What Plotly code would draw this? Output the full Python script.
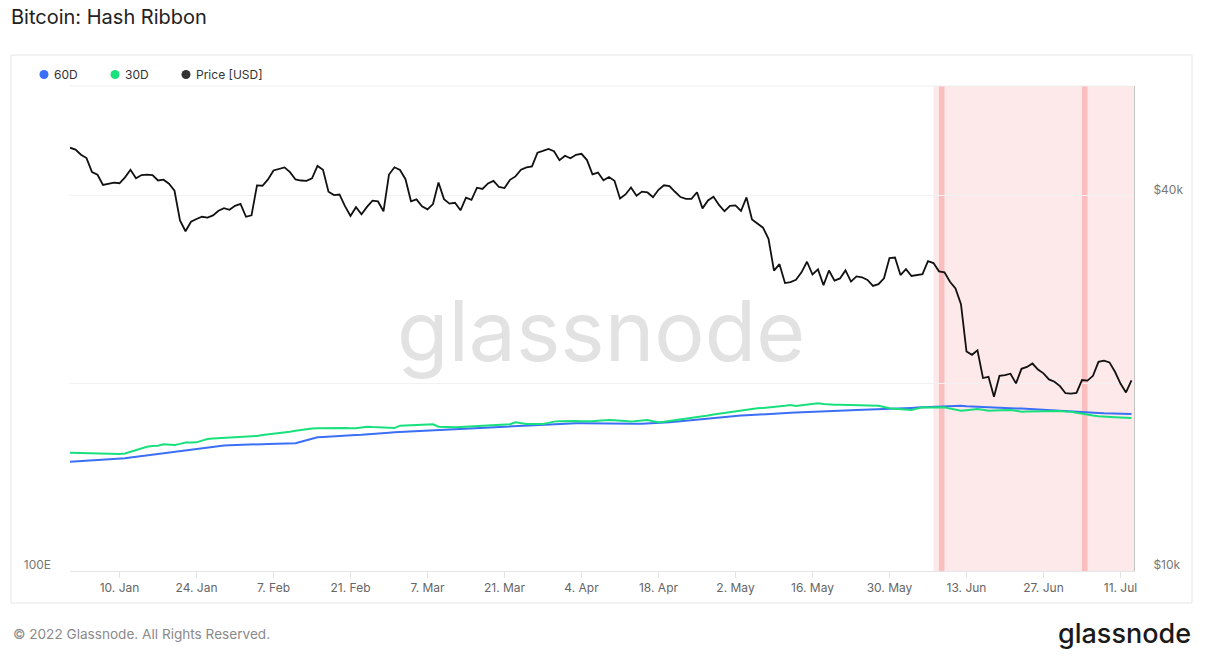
import pandas as pd
import plotly.graph_objects as go

# daily values, 1 Jan 2022 .. 13 Jul 2022
dates = pd.date_range("2022-01-01", "2022-07-13", freq="D")

price_usd = [
    # Jan
    47686, 47345, 46458, 45897, 43569, 43160, 41558, 41734, 41911, 41821, 42735, 43949, 42591, 43099, 43177, 43113,
    42250, 42375, 41744, 40680, 36457, 35030, 36276, 36654, 36954, 36852, 37138, 37784, 38138, 37917, 38483,
    # Feb
    38743, 36952, 37154, 41500, 41441, 42412, 43840, 44118, 44338, 43565, 42407, 42244, 42197, 42586, 44575, 43961,
    40538, 40030, 40122, 38431, 37075, 38286, 37296, 38332, 39214, 39105, 37710, 43194,
    # Mar
    44354, 43924, 42451, 39137, 39400, 38420, 37988, 38730, 41941, 39439, 38794, 38904, 37849, 39666, 39338, 41143,
    40951, 41801, 42190, 41247, 41077, 42358, 42892, 43960, 44348, 44500, 46820, 47128, 47465, 47062, 45538,
    # Apr
    46281, 45868, 46453, 46622, 45555, 43206, 43503, 42287, 42782, 42207, 39521, 40127, 41166, 39935, 40553, 40424,
    39716, 40827, 41502, 41374, 40527, 39740, 39486, 39469, 40458, 38118, 39241, 39773, 38609, 37714,
    # May
    38469, 38529, 37750, 39698, 36575, 36040, 35501, 34059, 30296, 31022, 28936, 29047, 29283, 30101, 31305, 29862,
    30425, 28720, 30314, 29200, 29432, 30323, 29098, 29655, 29562, 29267, 28627, 28814, 29445, 31726, 31792,
    # Jun
    29799, 30467, 29704, 29832, 29906, 31370, 31155, 30214, 30112, 29083, 28360, 26762, 22487, 22206, 22572, 20381,
    20471, 19017, 20553, 20599, 20710, 19987, 21085, 21231, 21502, 21028, 20735, 20281, 20104, 19785,
    # Jul
    19269, 19243, 19297, 20231, 20190, 20548, 21637, 21731, 21592, 20860, 19970, 19323, 20212,
]

# hash rate, EH/s
hash_60d = [
    178.1, 178.3, 178.5, 178.7, 178.9, 179.2, 179.4, 179.7, 179.9, 180.2, 180.5,
    181.0, 181.5, 182.0, 182.6, 183.1, 183.6, 184.0, 184.5, 185.0, 185.5, 186.0, 186.6, 187.1, 187.7, 188.3, 188.9, 189.5,
    189.7, 189.9, 190.1, 190.2, 190.4, 190.5, 190.6, 190.6, 190.7, 190.8, 190.8, 190.9, 191.0, 191.2,
    192.3, 193.4, 194.5, 195.5,
    195.8, 196.1, 196.3, 196.5, 196.7, 196.9, 197.1, 197.3, 197.5, 197.7, 197.9,
    198.4, 198.8, 199.1, 199.3, 199.5, 199.7, 199.9, 200.1, 200.4, 200.6, 200.9, 201.1, 201.4,
    201.6, 201.8, 202.0, 202.1, 202.3, 202.4, 202.6, 202.7, 202.9, 203.0, 203.2, 203.4, 203.6, 203.8,
    204.0, 204.2, 204.5, 204.7, 204.9, 205.1, 205.3, 205.5,
    205.6, 205.6, 205.5, 205.4, 205.4, 205.3, 205.3, 205.2, 205.1, 205.0, 205.0, 205.1, 205.2, 205.3, 205.4, 205.5,
    205.8, 206.2, 206.6, 207.0, 207.4, 207.8, 208.2, 208.6, 209.0, 209.4, 209.8, 210.2,
    210.5, 210.7, 211.0, 211.2, 211.5, 211.7, 211.9, 212.2, 212.4, 212.6, 212.9, 213.1,
    213.3, 213.4, 213.6, 213.7, 213.9, 214.0, 214.2, 214.3, 214.5, 214.6, 214.8, 215.0,
    215.1, 215.3, 215.4, 215.6, 215.7, 215.9, 216.0, 216.2, 216.4, 216.5, 216.7, 216.9,
    217.1, 217.3, 217.5, 217.6, 217.8, 218.4,
    218.1, 217.6, 217.4, 217.2, 216.9, 216.6,
    216.6, 216.5, 216.4, 216.3, 216.1, 216.0, 215.8, 215.7, 215.5, 215.4, 215.2, 215.0,
    214.8, 214.5, 214.2, 214.0, 213.7, 213.4, 213.2, 212.9, 212.6,
    212.5, 212.4, 212.3, 212.2, 212.1,
]

hash_30d = [
    184.5, 184.4, 184.3, 184.2, 184.1, 183.9, 183.7, 183.5, 183.3, 183.5, 184.0, 185.2, 186.4, 187.6, 188.8, 189.2,
    189.5, 190.5, 190.3, 190.0, 190.8, 191.7, 191.8, 191.9, 193.1, 194.3, 194.6, 194.8, 195.0, 195.2, 195.4, 195.7,
    195.8, 196.0, 196.5, 197.1, 197.5, 197.9, 198.4, 199.0, 199.5, 200.1, 200.7, 201.2, 201.7, 201.9, 202.0, 202.2,
    202.4, 202.3, 202.1, 202.0, 201.9, 202.5, 203.1, 202.8, 202.5, 202.3, 202.1, 202.1, 203.8, 203.9, 204.1, 204.2,
    204.4, 204.6, 204.8, 203.1, 202.8, 202.7, 202.6, 202.8, 203.0, 203.2, 203.4, 203.6, 203.8, 204.0, 204.3, 204.5,
    204.8, 206.2, 205.6, 205.0, 205.0, 205.0, 205.0, 205.8, 206.7, 206.9, 207.1, 207.1, 207.2, 207.0, 206.8, 206.9,
    207.3, 207.7, 207.9, 207.6, 207.2, 206.9, 206.7, 207.1, 207.6, 207.9, 207.0, 206.2, 206.6, 207.1, 207.6, 208.1,
    208.6, 209.1, 209.8, 210.5, 211.1, 211.8, 212.4, 213.1, 213.6, 214.1, 214.6, 215.2, 215.7, 216.2, 216.5, 216.8,
    217.1, 217.4, 218.0, 218.6, 217.9, 218.4, 218.9, 219.4, 219.8, 219.3, 218.8, 218.7, 218.7, 218.6, 218.6, 218.2,
    217.9, 218.0, 218.1, 218.1, 217.2, 216.2, 215.9, 215.6, 215.3, 215.0, 216.0, 216.9, 216.8, 216.8, 216.9, 216.9,
    216.0, 215.2, 214.5, 214.9, 215.3, 215.7, 215.1, 214.5, 214.6, 214.8, 214.9, 215.0, 214.4, 213.8, 214.0, 214.1,
    214.2, 214.3, 214.4, 214.5, 214.3, 214.0, 213.8, 213.0, 212.2, 211.4, 211.0, 210.6, 210.2, 209.9, 209.8, 209.6,
    209.4, 209.3,
]

# 30D below 60D (capitulation) and the two signal days
band_start = ["2022-06-07"]
band_end = ["2022-07-13 11:00"]
signal_days = ["2022-06-08", "2022-07-04"]

tick_dates = ["2022-01-10", "2022-01-24", "2022-02-07", "2022-02-21", "2022-03-07", "2022-03-21", "2022-04-04",
              "2022-04-18", "2022-05-02", "2022-05-16", "2022-05-30", "2022-06-13", "2022-06-27", "2022-07-11"]

legend_names = ["60D", "30D", "Price [USD]"]

BLUE = "#3b6ff5"
GREEN = "#18e07c"
BLACK = "#111111"
FONT = "Inter"

# paper coords helpers (plot area 70..1134 x 86..571 px)
def px(x):
    return (x - 70) / 1064

def py(y):
    return (571 - y) / 485

fig = go.Figure()

fig.add_trace(go.Scatter(x=dates, y=hash_60d, name="60D", yaxis="y", mode="lines",
                         line=dict(color=BLUE, width=2)))
fig.add_trace(go.Scatter(x=dates, y=hash_30d, name="30D", yaxis="y", mode="lines",
                         line=dict(color=GREEN, width=2)))
fig.add_trace(go.Scatter(x=dates, y=price_usd, name="Price [USD]", yaxis="y2", mode="lines",
                         line=dict(color=BLACK, width=1.8)))

shapes = []
for s, e in zip(band_start, band_end):
    shapes.append(dict(type="rect", xref="x", yref="paper", x0=s, x1=e, y0=0, y1=1,
                       fillcolor="rgba(246,120,130,0.17)", line_width=0, layer="below"))
for d in signal_days:
    d1 = pd.Timestamp(d) + pd.Timedelta(days=1)
    shapes.append(dict(type="rect", xref="x", yref="paper", x0=d, x1=d1, y0=0, y1=1,
                       fillcolor="rgba(246,120,120,0.38)", line_width=0, layer="below"))
# card border
shapes.append(dict(type="rect", xref="paper", yref="paper", x0=px(11), x1=px(1192), y0=py(603), y1=py(55),
                   line=dict(color="#e6e6e6", width=1), layer="below"))
# top line of plot area
shapes.append(dict(type="line", xref="paper", yref="paper", x0=0, x1=1, y0=1, y1=1,
                   line=dict(color="#eeeeee", width=1)))

annotations = [
    dict(text="glassnode", x=px(601), y=py(330), xref="paper", yref="paper", showarrow=False,
         font=dict(family=FONT, size=84, color="#e2e2e2"), xanchor="center", yanchor="middle"),
    dict(text="© 2022 Glassnode. All Rights Reserved.", x=px(11), y=py(634), xref="paper", yref="paper",
         showarrow=False, xanchor="left", yanchor="middle", font=dict(family=FONT, size=13.6, color="#8a8a8a")),
    dict(text="glassnode", x=px(1193), y=py(633), xref="paper", yref="paper", showarrow=False,
         xanchor="right", yanchor="middle", font=dict(family=FONT, size=27, color="#1a1a1a", weight=500)),
]

# legend drawn by hand: dot + label, dot close to the text like the original
legend_x = [44, 115, 186]
for name, col, lx in zip(legend_names, [BLUE, GREEN, "#333333"], legend_x):
    shapes.append(dict(type="circle", xref="paper", yref="paper", xsizemode="pixel", ysizemode="pixel",
                       xanchor=px(lx), yanchor=py(74.5), x0=-4.5, x1=4.5, y0=-4.5, y1=4.5,
                       fillcolor=col, line_width=0))
    annotations.append(dict(text=name, x=px(lx + 8), y=py(74.5), xref="paper", yref="paper", showarrow=False,
                            xanchor="left", yanchor="middle", font=dict(family=FONT, size=12, color="#333333")))

fig.update_layout(
    width=1210, height=659,
    margin=dict(l=70, r=76, t=86, b=88, autoexpand=False),
    paper_bgcolor="white", plot_bgcolor="white",
    font=dict(family=FONT, size=12, color="#666666"),
    title=dict(text="Bitcoin: Hash Ribbon", x=11 / 1210, y=1 - 17 / 659, xref="container", yref="container",
               xanchor="left", yanchor="middle", font=dict(family=FONT, size=20, color="#222222")),
    showlegend=False,
    shapes=shapes,
    annotations=annotations,
    xaxis=dict(type="date", range=["2022-01-01", "2022-07-13 11:00"], tickvals=tick_dates,
               tickformat="%-d. %b", showgrid=False, ticks="outside", ticklen=6, tickcolor="#e2e2e2",
               showline=True, linecolor="#e6e6e6", zeroline=False, tickfont=dict(size=12, color="#666666")),
    yaxis=dict(range=[100, 100 + 485 / 1.4], tickvals=[100], ticktext=["100E"], showgrid=False,
               zeroline=False, tickfont=dict(size=12, color="#777777"), ticklabelshift=-6,
               ticklabelstandoff=18),
    yaxis2=dict(type="log", overlaying="y", side="right", range=[4, 4 + 485 / 624],
                tickvals=[10000, 20000, 40000], ticktext=["$10k", "", "$40k"], showgrid=True,
                gridcolor="#f1f1f1", showline=True, linecolor="#c4c4c4", zeroline=False,
                tickfont=dict(size=12, color="#777777"), ticklabelshift=-6, ticklabelstandoff=16),
)

fig.write_html("out.html", config={"displayModeBar": False},
               post_script="document.body.style.margin='0';")
